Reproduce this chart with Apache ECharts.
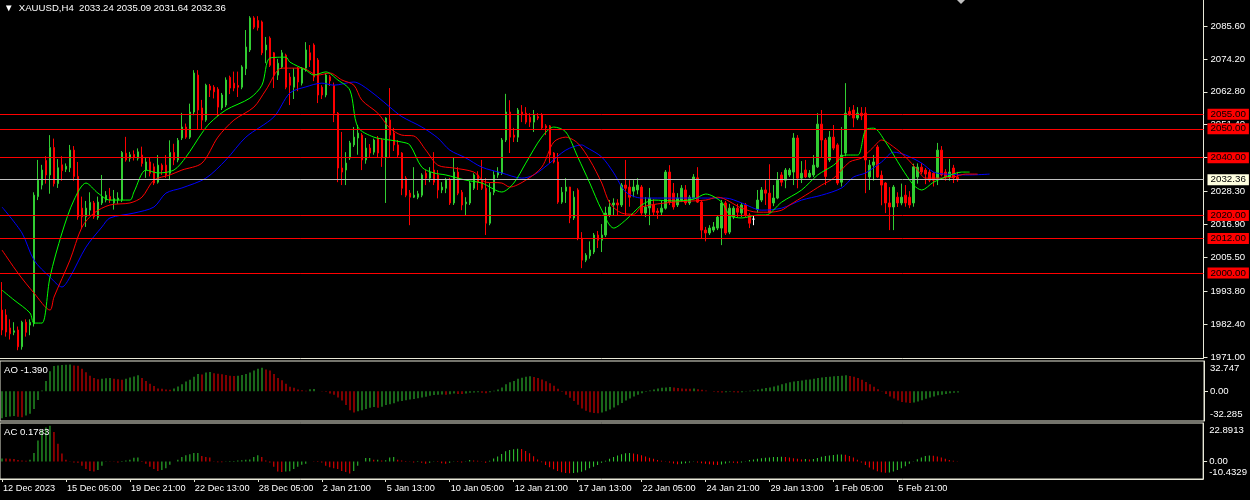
<!DOCTYPE html>
<html>
<head>
<meta charset="utf-8">
<script src="https://cdn.jsdelivr.net/npm/echarts@6/dist/echarts.min.js"></script>
<style>
html,body{margin:0;padding:0;background:#000;}
#c{width:1250px;height:500px;}
</style>
</head>
<body>
<div id="c"></div>
<script>
// ---------- DATA ----------
const symbolName = 'XAUUSD,H4';
const tickLabels = ['12 Dec 2023','15 Dec 05:00','19 Dec 21:00','22 Dec 13:00','28 Dec 05:00','2 Jan 21:00','5 Jan 13:00','10 Jan 05:00','12 Jan 21:00','17 Jan 13:00','22 Jan 05:00','24 Jan 21:00','29 Jan 13:00','1 Feb 05:00','5 Feb 21:00'];
const priceTicks = [2085.60, 2074.20, 2062.80, 2051.40, 2040.00, 2028.30, 2016.90, 2005.50, 1993.80, 1982.40, 1971.00];
const levels = [2055.00, 2050.00, 2040.00, 2020.00, 2012.00, 2000.00];
const bidPrice = 2032.36;
const aoScale = ['32.747', '0.00', '-32.285'];
const acScale = ['22.8913', '0.00', '-10.4329'];

const open = [
1987.2,1985.5,1981.0,1979.5,1980.3,1974.5,1983.0,1982.0,1982.5,2026.5,
2030.5,2039.0,2034.0,2043.5,2031.0,2037.5,2036.0,2036.5,2042.6,2033.5,
2022.5,2019.5,2021.8,2024.3,2019.3,2024.3,2025.3,2026.5,2024.3,2025.3,
2025.3,2041.5,2039.8,2041.1,2039.8,2040.9,2035.7,2038.5,2036.8,2031.5,
2037.4,2037.4,2034.6,2041.8,2039.2,2046.8,2050.6,2047.1,2055.8,2068.6,
2057.2,2053.0,2064.8,2064.4,2063.7,2057.2,2058.2,2067.8,2065.8,2065.0,
2064.4,2070.8,2077.3,2088.4,2087.5,2087.0,2077.3,2081.4,2076.3,2068.6,
2071.4,2075.5,2067.9,2064.4,2071.0,2065.8,2071.0,2076.3,2079.0,2073.8,
2064.4,2061.7,2068.0,2065.0,2055.4,2036.4,2035.7,2039.9,2044.4,2046.8,
2047.8,2039.2,2043.3,2041.9,2046.8,2046.1,2040.2,2053.0,2048.5,2044.4,
2041.6,2032.9,2027.7,2026.3,2026.3,2027.0,2034.6,2032.9,2035.7,2034.0,
2028.8,2029.4,2032.2,2024.3,2035.0,2028.0,2024.0,2024.3,2029.4,2034.0,
2032.2,2029.4,2017.3,2028.0,2034.0,2034.6,2046.1,2055.8,2047.8,2047.1,
2055.8,2055.4,2054.0,2052.3,2054.2,2054.8,2051.0,2051.0,2041.6,2038.5,
2024.6,2028.4,2029.8,2019.1,2028.8,2012.1,2004.5,2006.0,2007.3,2013.2,
2011.4,2013.2,2020.1,2023.6,2024.3,2023.6,2030.5,2029.8,2028.4,2028.8,
2029.8,2020.8,2022.6,2023.6,2021.5,2021.1,2022.5,2035.0,2027.7,2023.6,
2025.3,2028.8,2024.3,2026.0,2033.0,2024.6,2014.9,2013.9,2014.9,2015.6,
2015.6,2024.3,2014.2,2019.4,2022.5,2020.8,2023.6,2020.1,2018.7,2022.0,
2025.3,2028.8,2027.7,2024.3,2026.0,2034.0,2032.2,2034.0,2035.0,2046.8,
2032.9,2035.7,2033.3,2034.0,2036.8,2051.6,2046.1,2039.2,2047.1,2044.4,
2031.5,2041.6,2056.0,2056.5,2053.7,2055.4,2055.4,2033.3,2037.4,2043.7,
2033.9,2031.2,2024.3,2022.9,2026.3,2024.3,2027.0,2026.3,2024.3,2033.3,
2036.7,2035.7,2035.0,2034.6,2032.9,2042.6,2035.0,2033.3,2036.4,2033.24];
const high = [
1996.9,1987.5,1984.0,1983.0,1981.5,1983.5,1984.0,1984.0,2028.0,2039.2,
2037.5,2040.5,2047.8,2046.6,2039.5,2040.5,2038.0,2044.4,2044.0,2038.5,
2026.5,2025.0,2028.0,2025.0,2026.5,2034.0,2028.4,2029.5,2028.8,2028.0,
2042.3,2047.2,2042.0,2042.5,2043.2,2043.8,2040.0,2040.2,2038.0,2040.9,
2038.0,2040.9,2046.0,2044.8,2046.8,2055.5,2051.8,2058.7,2070.3,2070.3,
2060.0,2065.6,2065.5,2065.1,2064.4,2062.4,2067.8,2068.4,2069.8,2069.8,
2072.0,2084.2,2089.0,2089.0,2089.0,2087.5,2081.8,2082.0,2076.6,2074.2,
2077.3,2076.0,2069.3,2071.0,2071.4,2071.4,2080.0,2079.0,2079.6,2074.5,
2065.1,2069.3,2068.6,2066.0,2055.8,2048.9,2041.9,2045.8,2050.6,2051.3,
2048.5,2046.8,2044.7,2046.6,2047.5,2046.8,2054.0,2064.1,2050.3,2046.1,
2041.9,2033.6,2028.8,2036.7,2028.5,2034.6,2035.7,2036.7,2041.9,2035.7,
2031.5,2033.0,2033.0,2040.2,2036.7,2028.8,2026.3,2031.9,2034.6,2035.3,
2039.2,2032.9,2031.2,2035.3,2036.7,2046.8,2062.1,2059.9,2050.3,2057.2,
2058.2,2057.5,2055.4,2056.5,2055.4,2055.4,2051.6,2051.3,2041.9,2041.6,
2029.8,2032.9,2029.9,2028.4,2029.4,2014.2,2006.9,2011.0,2013.9,2014.6,
2017.0,2023.0,2025.3,2025.9,2025.6,2031.2,2039.2,2032.2,2032.2,2032.9,
2030.5,2026.3,2029.5,2025.6,2022.5,2025.0,2035.7,2037.4,2031.2,2027.7,
2030.5,2030.5,2027.0,2034.3,2036.7,2025.3,2016.0,2016.6,2017.7,2020.1,
2025.3,2025.0,2024.0,2023.2,2024.0,2024.3,2024.3,2020.8,2020.1,2028.8,
2029.8,2032.2,2037.7,2030.5,2035.0,2035.0,2036.4,2036.4,2048.5,2047.8,
2038.8,2039.2,2035.7,2040.9,2055.4,2056.5,2046.8,2049.2,2051.3,2045.0,
2050.6,2065.8,2057.5,2058.2,2057.5,2057.5,2057.5,2039.2,2040.9,2044.4,
2035.5,2031.5,2029.8,2030.5,2028.0,2031.0,2030.5,2028.4,2037.9,2038.0,
2038.1,2036.4,2036.0,2035.0,2045.1,2044.0,2036.0,2039.5,2037.5,2035.09];
const low = [
1978.5,1978.0,1977.0,1978.5,1973.3,1973.5,1978.0,1978.5,1981.5,2025.3,
2029.0,2031.0,2027.5,2030.0,2029.5,2032.0,2035.0,2035.0,2032.0,2018.5,
2015.5,2016.0,2019.8,2018.8,2018.5,2023.6,2024.5,2024.3,2022.0,2024.0,
2024.6,2038.6,2038.6,2039.0,2039.0,2036.9,2033.0,2033.5,2030.5,2031.0,
2034.0,2033.0,2032.2,2037.4,2038.4,2046.1,2046.5,2046.5,2054.7,2049.6,
2049.6,2052.4,2061.0,2060.5,2054.2,2056.5,2057.5,2062.0,2063.0,2061.0,
2063.7,2068.6,2076.6,2084.5,2084.0,2075.5,2072.7,2071.4,2064.1,2066.9,
2070.8,2063.7,2058.2,2060.3,2063.0,2065.0,2069.8,2071.4,2066.5,2058.9,
2060.3,2060.9,2064.8,2052.3,2031.5,2030.5,2030.5,2039.2,2043.7,2041.0,
2035.7,2037.9,2039.9,2041.0,2039.9,2036.8,2024.3,2040.2,2042.3,2039.9,
2027.0,2026.3,2016.6,2026.0,2025.6,2026.3,2030.5,2031.5,2030.5,2025.9,
2027.7,2027.7,2023.6,2023.6,2027.0,2021.8,2020.1,2023.6,2028.8,2028.8,
2028.8,2013.2,2016.6,2027.0,2033.0,2034.0,2045.4,2041.6,2045.4,2045.4,
2052.3,2051.6,2050.6,2048.9,2053.0,2049.6,2047.8,2038.1,2038.0,2024.0,
2024.0,2024.3,2017.3,2018.4,2011.4,2001.7,2003.8,2005.0,2006.6,2008.7,
2007.3,2012.5,2019.4,2020.1,2020.1,2022.9,2020.1,2023.0,2026.3,2027.3,
2020.1,2019.4,2016.6,2020.1,2018.8,2020.0,2022.0,2023.6,2022.0,2022.9,
2024.6,2023.6,2023.6,2025.6,2024.3,2012.1,2011.0,2013.2,2014.2,2014.9,
2009.7,2013.2,2013.5,2018.7,2019.4,2019.4,2019.4,2015.6,2016.6,2021.0,
2024.6,2023.6,2020.8,2023.2,2025.6,2030.1,2029.4,2033.3,2030.5,2029.4,
2031.2,2032.9,2032.9,2033.3,2036.4,2039.9,2030.5,2038.5,2042.6,2030.5,
2030.0,2040.5,2054.5,2050.5,2053.0,2053.0,2027.7,2028.8,2032.0,2033.0,
2023.5,2020.8,2014.9,2014.9,2022.9,2023.5,2023.0,2022.5,2023.0,2031.0,
2034.3,2030.8,2031.5,2030.0,2030.5,2033.5,2032.0,2032.0,2031.2,2031.64];
const close = [
1980.3,1979.6,1979.0,1980.0,1974.5,1983.0,1979.5,1983.0,2027.0,2032.2,
2035.7,2034.0,2043.5,2031.0,2036.5,2035.5,2037.0,2042.6,2033.5,2019.5,
2019.5,2022.5,2024.5,2019.5,2024.6,2026.5,2027.0,2025.3,2025.8,2026.0,
2041.8,2039.2,2041.0,2040.2,2042.0,2038.0,2038.5,2034.6,2031.2,2037.4,
2035.7,2034.0,2041.8,2039.2,2046.0,2050.6,2047.1,2055.8,2069.3,2056.5,
2053.0,2065.1,2063.4,2062.8,2057.5,2061.7,2066.9,2064.1,2064.1,2064.4,
2071.4,2078.3,2088.4,2085.2,2085.0,2076.3,2079.0,2072.0,2068.6,2072.7,
2076.3,2064.4,2065.1,2067.9,2066.2,2071.0,2077.3,2073.8,2067.9,2061.7,
2061.7,2068.6,2066.6,2055.4,2036.4,2035.0,2038.1,2045.1,2047.1,2048.5,
2039.2,2043.3,2041.6,2046.1,2041.6,2040.2,2053.7,2047.8,2044.4,2040.9,
2029.4,2027.0,2026.3,2027.0,2027.5,2034.0,2032.9,2035.0,2031.5,2028.8,
2029.8,2032.2,2024.3,2035.0,2027.7,2023.6,2024.6,2031.2,2034.0,2031.5,
2029.4,2017.3,2028.0,2034.0,2035.0,2046.1,2055.8,2047.1,2047.1,2056.5,
2054.8,2052.3,2052.3,2054.8,2053.7,2050.3,2050.3,2040.9,2038.5,2024.6,
2028.0,2029.8,2019.1,2026.3,2012.1,2004.5,2006.2,2008.0,2013.2,2011.4,
2013.2,2020.8,2022.9,2024.3,2023.6,2030.5,2029.4,2026.3,2029.8,2030.5,
2020.8,2022.9,2026.0,2021.1,2021.0,2022.5,2035.0,2024.6,2022.9,2026.0,
2029.4,2024.3,2026.3,2033.3,2024.6,2014.9,2013.9,2015.6,2016.0,2019.4,
2024.3,2013.9,2022.5,2022.5,2021.1,2023.6,2020.1,2017.3,2018.7,2025.3,
2028.8,2027.7,2021.1,2026.0,2032.2,2031.5,2035.7,2035.7,2046.8,2032.9,
2034.6,2033.3,2034.6,2037.4,2051.6,2046.1,2033.5,2047.1,2043.3,2031.2,
2040.9,2055.4,2054.8,2053.7,2055.4,2054.5,2039.2,2037.4,2038.5,2033.3,
2030.5,2024.3,2022.9,2029.8,2024.3,2026.3,2024.3,2023.6,2036.8,2036.7,
2035.0,2034.3,2032.2,2032.2,2042.6,2034.0,2033.3,2035.0,2033.0,2032.36];

// Alligator lines: [bar index, price]
const jaw = [[0,2022.9],[5,2013.9],[8,2004.5],[12,1998.6],[15,1995.2],[17,1998.6],[21,2009],[25,2016],[27,2019.1],[33,2020.8],[38,2022.9],[41,2027.7],[45,2029.5],[51,2032.9],[56,2039.2],[61,2047.1],[68,2054.1],[72,2062.4],[76,2064.5],[80,2065.8],[83,2065.1],[88,2066.2],[90,2065.1],[94,2061],[97,2057.5],[100,2054.2],[105,2050.6],[109,2046.8],[112,2042.6],[116,2039.9],[120,2036.7],[125,2034.7],[130,2032.9],[133,2034],[137,2038.1],[141,2042.6],[145,2044.4],[146,2043.7],[150,2040.2],[153,2034.7],[156,2028.1],[160,2026],[168,2026],[175,2026],[181,2026],[185,2024.3],[190,2021.8],[195,2022.5],[200,2025.3],[205,2027],[210,2029.5],[213,2033.3],[216,2034.7],[220,2038.5],[223,2041.9],[226,2040.9],[230,2038.1],[233,2035],[236,2034.3],[242,2034],[247,2034.3]];
const teeth = [[0,2008],[4,2000],[8,1993.1],[12,1987.2],[13,1991.7],[17,2004.5],[20,2015.9],[23,2020.8],[27,2023.6],[32,2024.3],[35,2026.3],[38,2032.2],[42,2034],[45,2035.7],[50,2038.1],[54,2047.1],[58,2053],[63,2057.5],[66,2063.4],[70,2071],[75,2071],[79,2068.6],[82,2069.3],[85,2066.9],[88,2065.1],[90,2059.9],[94,2055.4],[97,2050.2],[100,2047.8],[103,2047.5],[106,2042.6],[109,2037.4],[113,2036.4],[118,2035],[121,2031.5],[125,2031.2],[127,2029.8],[131,2032.2],[135,2036.7],[138,2045.4],[141,2047.1],[144,2045],[147,2039.2],[150,2031.2],[152,2024.3],[155,2020.8],[158,2020.4],[160,2022.9],[168,2024.6],[176,2025.3],[179,2026.3],[185,2022.5],[189,2021.1],[192,2021.1],[195,2021.8],[197,2023.6],[201,2027],[205,2030.5],[208,2032.9],[212,2038.5],[215,2039.9],[218,2043.7],[220,2046.1],[223,2043.7],[226,2040.2],[229,2035.7],[231,2032.9],[235,2032.9],[238,2033.3],[241,2034.3],[244,2034.3]];
const lips = [[0,1994.1],[3,1990.7],[7,1986.2],[8,1982.7],[10,1982.7],[12,1998.6],[15,2013.9],[18,2025.3],[21,2031.2],[24,2027.7],[27,2025.3],[32,2025.3],[33,2028.1],[36,2035.7],[39,2034.7],[43,2035.7],[46,2040.2],[50,2048.5],[52,2052],[56,2056.5],[62,2060.6],[65,2065.1],[67,2074.5],[71,2074.8],[72,2073.1],[76,2070.3],[78,2068.6],[81,2069.7],[84,2066.9],[87,2063.4],[89,2050.6],[93,2047.1],[97,2046.1],[100,2045.4],[102,2044.4],[105,2036.7],[108,2034.7],[111,2034],[116,2032.2],[120,2031.2],[125,2028.1],[128,2031.2],[131,2038.1],[135,2047.1],[138,2050.6],[141,2048.9],[144,2040.2],[147,2031.2],[150,2021.8],[153,2015.6],[156,2018.4],[160,2023.6],[163,2025.3],[168,2025],[173,2025.6],[176,2027.4],[180,2024.6],[182,2020.1],[185,2019.1],[189,2020.1],[191,2020.1],[195,2024.6],[200,2028.8],[204,2034],[208,2037.4],[211,2040.9],[214,2040.9],[216,2049.6],[218,2050.2],[221,2045.4],[225,2036.4],[228,2030.5],[230,2028.8],[233,2031.5],[236,2033.3],[240,2035],[242,2035]];

const ao = [
-29.2,-28.0,-27.3,-27.0,-27.6,-28.2,-26.2,-24.3,-19.4,-9.4,
0.7,11.2,21.7,27.2,28.0,28.4,28.7,28.9,28.0,27.5,
24.3,20.6,16.8,14.2,13.1,13.6,14.0,14.2,13.6,13.1,
12.4,13.6,14.8,16.0,17.2,14.2,11.2,8.2,5.6,3.0,
2.6,1.9,1.5,3.0,5.2,7.5,10.5,12.3,15.7,18.7,
18.2,20.2,20.9,19.4,18.9,18.5,17.6,16.8,16.5,16.8,
17.6,18.7,20.2,22.4,24.3,25.4,23.6,22.4,18.7,14.2,
12.0,8.2,4.9,3.7,1.9,1.1,0.4,2.2,2.4,0.0,
-0.4,-0.7,-2.6,-3.7,-6.7,-10.1,-15.0,-20.6,-23.2,-21.7,
-20.6,-19.4,-18.0,-17.2,-18.0,-16.8,-15.0,-14.2,-13.1,-11.2,
-10.5,-9.8,-9.0,-8.4,-7.5,-6.8,-6.0,-5.0,-4.2,-3.8,
-3.5,-3.7,-3.2,-2.6,-2.9,-3.1,-2.5,-1.8,-1.5,-1.2,
-1.6,-2.2,-1.2,0.4,1.9,4.1,7.5,9.7,11.2,13.4,
14.6,15.7,16.1,15.3,14.2,12.7,10.9,8.6,5.9,2.6,
-0.7,-3.7,-7.1,-10.5,-14.6,-18.7,-21.3,-22.8,-23.6,-24.0,
-23.2,-21.7,-19.8,-17.6,-15.3,-12.7,-10.1,-7.9,-5.6,-3.7,
-2.2,-0.7,0.7,1.9,3.0,3.7,4.1,4.5,4.1,3.4,
3.0,2.6,2.6,3.0,2.2,1.5,0.7,0.0,-0.7,-1.1,
-1.5,-1.1,-0.7,-1.1,-1.5,-1.1,-0.4,0.4,1.1,1.9,
2.6,3.4,4.1,5.2,6.3,7.5,8.6,9.7,10.5,11.2,
11.6,12.3,12.7,13.4,14.2,14.9,15.3,15.7,16.1,16.5,
16.8,17.2,16.5,15.7,14.2,12.3,10.1,7.5,4.9,2.2,
-0.4,-3.0,-5.6,-7.9,-10.1,-11.6,-12.3,-12.7,-12.3,-11.2,
-9.7,-8.2,-6.7,-5.6,-4.5,-3.7,-3.0,-2.2,-1.8,-1.390];
const ac = [
1.8,1.7,1.6,1.5,0.8,0.6,0.5,1.0,5.1,12.5,
18.7,20.2,21.2,17.5,10.5,4.7,1.0,0.1,-0.6,-0.8,
-2.5,-4.5,-5.6,-6.0,-5.1,-2.5,0.2,0.1,-0.2,-0.6,
0.3,0.6,1.0,2.2,2.3,-0.3,-1.4,-3.1,-4.5,-5.6,
-5.1,-4.1,-2.0,-0.05,1.0,2.7,3.7,4.3,5.0,5.1,
3.3,2.7,2.3,0.2,-0.4,-0.5,0.2,0.25,0.3,0.6,
0.7,1.0,1.1,2.7,3.7,2.7,0.6,-0.6,-3.1,-6.0,
-6.2,-6.0,-5.8,-4.5,-3.1,-2.0,-1.4,-0.05,-0.1,-0.3,
-0.6,-2.5,-3.5,-4.1,-4.5,-5.6,-6.2,-7.2,-5.6,-2.5,
0.05,2.0,2.1,1.0,1.05,0.6,0.7,2.3,2.7,1.0,
0.6,0.3,-0.2,-0.6,-0.3,-0.8,-1.4,-0.8,0.2,-0.3,
-1.0,-1.4,-0.8,0.2,-0.3,-0.6,0.2,0.8,0.6,0.4,
-0.2,-0.8,0.4,1.8,3.0,4.4,6.1,6.8,7.2,7.6,
7.4,6.3,4.9,3.1,1.2,-0.4,-2.1,-3.5,-4.7,-5.6,
-6.4,-6.9,-7.0,-6.8,-6.5,-6.1,-5.2,-4.1,-3.1,-2.1,
-0.8,0.5,1.6,2.7,3.5,4.3,4.9,5.1,4.8,4.3,
3.7,2.9,2.2,1.6,0.9,0.4,-0.2,-0.6,-1.2,-1.6,
-1.4,-1.1,-0.6,-0.2,-0.6,-1.0,-1.4,-1.7,-2.0,-2.1,
-1.8,-1.2,-0.6,-0.8,-1.1,-0.6,0.2,0.8,1.2,1.6,
1.9,2.2,2.4,2.6,2.7,2.8,2.6,2.3,1.9,1.6,
1.2,1.4,1.1,1.5,2.1,2.8,3.2,3.6,3.9,4.1,
4.2,4.0,3.2,2.4,1.0,-0.6,-2.1,-3.6,-4.8,-5.8,
-6.4,-6.7,-6.5,-5.9,-5.1,-4.1,-2.8,-1.4,0.2,1.3,
2.4,3.2,3.5,3.4,2.9,2.3,1.6,0.9,0.5,0.1783];

// ---------- BUILD ----------
const SLOTS = 301, LABEL_EVERY = 16;
const categories = Array.from({length: SLOTS}, (_, i) =>
  (i % LABEL_EVERY === 0 && i / LABEL_EVERY < tickLabels.length) ? tickLabels[i / LABEL_EVERY] : '');
const UP = '#32CD32', DN = '#FF0000', FG = '#FFFFFF', FRAME = '#E8E8D8';
const FONT = 'Liberation Sans, DejaVu Sans, sans-serif';
const FS = 9.6;

const candles = open.map((o, i) => {
  const item = {value: [o, close[i], low[i], high[i]]};
  if (o === close[i]) item.itemStyle = {color: FG, color0: FG, borderColor: FG, borderColor0: FG};
  return item;
});
function dirColors(arr) {
  const out = []; let last = UP;
  arr.forEach((v, i) => {
    if (i > 0) { if (v > arr[i-1]) last = UP; else if (v < arr[i-1]) last = DN; }
    out.push(last);
  });
  return out;
}
const aoCol = dirColors(ao), acCol = dirColors(ac);
const last = open.length - 1;
const header = '\u25BC  ' + symbolName + '  ' + [open[last], high[last], low[last], close[last]].map(v => v.toFixed(2)).join(' ');

const lvlLabel = (bg) => ({show: true, position: 'end', distance: 4, backgroundColor: bg, color: '#000',
  padding: [1, 3, 0, 3], fontFamily: FONT, fontSize: FS + 0.2, formatter: p => p.value.toFixed(2)});

const chart = echarts.init(document.getElementById('c'), null, {renderer: 'canvas'});
const edgeRich = {
  t: {padding: [14, 0, 0, 0], color: FG, fontFamily: FONT, fontSize: FS},
  m: {color: FG, fontFamily: FONT, fontSize: FS},
  b: {padding: [0, 0, 14, 0], color: FG, fontFamily: FONT, fontSize: FS}
};
function scaleAxis(gi, scale) {
  const vals = scale.map(Number);
  return {
    gridIndex: gi, type: 'value', position: 'right', min: vals[2], max: vals[0],
    splitLine: {show: false},
    axisLine: {show: true, lineStyle: {color: FRAME}},
    axisTick: {show: true, customValues: [vals[1]], length: 4, lineStyle: {color: FRAME}},
    axisLabel: {show: true, customValues: vals, margin: 6, rich: edgeRich,
      formatter: v => v === vals[0] ? '{t|' + scale[0] + '}' : (v === vals[2] ? '{b|' + scale[2] + '}' : '{m|' + scale[1] + '}')}
  };
}
const titleStyle = {color: FG, fontFamily: FONT, fontSize: FS, fontWeight: 'normal'};

chart.setOption({
  backgroundColor: '#000',
  animation: false,
  title: [
    {text: header, left: 4, top: 3, padding: 0, textStyle: titleStyle},
    {text: 'AO ' + ao[ao.length-1].toFixed(3), left: 4, top: 365, padding: 0, textStyle: titleStyle},
    {text: 'AC ' + ac[ac.length-1].toFixed(4), left: 4, top: 427, padding: 0, textStyle: titleStyle}
  ],
  grid: [
    {left: -0.5, width: 1204, top: 0, height: 358, show: false},
    {left: 0, width: 1204, top: 361, height: 60, show: true, borderColor: FRAME, borderWidth: 1, backgroundColor: 'transparent'},
    {left: 0, width: 1204, top: 423, height: 56, show: true, borderColor: FRAME, borderWidth: 1, backgroundColor: 'transparent'}
  ],
  xAxis: [
    {gridIndex: 0, type: 'category', data: categories, boundaryGap: true,
      axisLine: {show: true, onZero: false, lineStyle: {color: FRAME}}, axisTick: {show: false}, axisLabel: {show: false}},
    {gridIndex: 1, type: 'category', data: categories, boundaryGap: true,
      axisLine: {show: false, onZero: false}, axisTick: {show: false}, axisLabel: {show: false}},
    {gridIndex: 2, type: 'category', data: categories, boundaryGap: true,
      axisLine: {show: true, onZero: false, lineStyle: {color: FRAME}},
      axisTick: {show: true, alignWithLabel: true, length: 3, interval: i => categories[i] !== '', lineStyle: {color: FRAME}},
      axisLabel: {show: true, interval: i => categories[i] !== '', align: 'left', margin: 5, padding: [0, 0, 0, 1],
        color: FG, fontFamily: FONT, fontSize: 9.2}}
  ],
  yAxis: [
    {gridIndex: 0, type: 'value', position: 'right', min: 1970.6, max: 2094.6,
      splitLine: {show: false},
      axisLine: {show: true, lineStyle: {color: FRAME}},
      axisTick: {show: true, customValues: priceTicks, length: 4, lineStyle: {color: FRAME}},
      axisLabel: {show: true, customValues: priceTicks, margin: 7, color: FG, fontFamily: FONT, fontSize: FS,
        formatter: v => v.toFixed(2)}},
    scaleAxis(1, aoScale),
    scaleAxis(2, acScale)
  ],
  series: [
    {type: 'candlestick', xAxisIndex: 0, yAxisIndex: 0, data: candles, barWidth: 2,
      itemStyle: {color: UP, color0: DN, borderColor: UP, borderColor0: DN, borderWidth: 1},
      markLine: {symbol: ['none', 'none'], silent: true, animation: false, precision: 2,
        data: levels.map(v => ({yAxis: v, lineStyle: {color: '#FF0000', width: 1, type: 'solid'}, label: lvlLabel('#FF0000')}))
          .concat([{yAxis: bidPrice, lineStyle: {color: '#C0C0C0', width: 1, type: 'solid'}, label: lvlLabel('#FFFFE0')}])}
    },
    {type: 'line', name: 'Jaw', xAxisIndex: 0, yAxisIndex: 0, data: jaw, showSymbol: false, smooth: 0.3, connectNulls: true,
      lineStyle: {color: '#0000FF', width: 1}, z: 3},
    {type: 'line', name: 'Teeth', xAxisIndex: 0, yAxisIndex: 0, data: teeth, showSymbol: false, smooth: 0.3, connectNulls: true,
      lineStyle: {color: '#FF0000', width: 1}, z: 3},
    {type: 'line', name: 'Lips', xAxisIndex: 0, yAxisIndex: 0, data: lips, showSymbol: false, smooth: 0.3, connectNulls: true,
      lineStyle: {color: '#00FF00', width: 1}, z: 3},
    {type: 'bar', name: 'AO', xAxisIndex: 1, yAxisIndex: 1, data: ao, barWidth: 1,
      itemStyle: {color: p => aoCol[p.dataIndex], borderWidth: 0}},
    {type: 'bar', name: 'AC', xAxisIndex: 2, yAxisIndex: 2, data: ac, barWidth: 1,
      itemStyle: {color: p => acCol[p.dataIndex], borderWidth: 0}}
  ],
  graphic: [
    {type: 'polygon', shape: {points: [[957, 0], [965, 0], [961, 4]]}, style: {fill: '#C0C0C0'}, silent: true}
  ]
});
</script>
</body>
</html>
